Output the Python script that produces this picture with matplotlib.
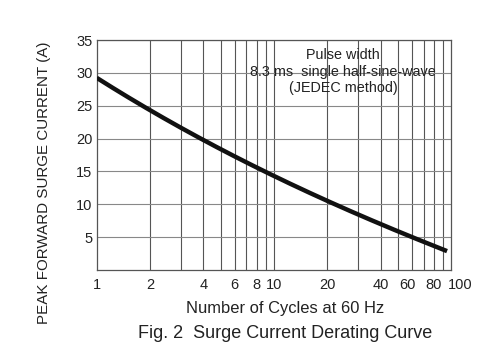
import numpy as np
import matplotlib
matplotlib.use("Agg")
import matplotlib.pyplot as plt
import matplotlib.transforms as mtransforms
from matplotlib.ticker import FixedLocator, NullLocator

plt.rcParams['font.family'] = ['Liberation Sans', 'DejaVu Sans']

# values
cycles = [1, 2, 3, 4, 5, 6, 8, 10, 20, 30, 40, 60, 80, 95]
current = [29.3, 24.3, 21.6, 19.7, 18.3, 17.2, 15.8, 14.6, 10.4, 8.4, 6.9, 5.0, 3.7, 2.9]

x_ticks = [1, 2, 4, 6, 8, 10, 20, 40, 60, 80, 100]
y_ticks = [5, 10, 15, 20, 25, 30, 35]
x_grid = [2, 3, 4, 5, 6, 7, 8, 9, 10, 20, 30, 40, 50, 60, 70, 80, 90]

fig = plt.figure(figsize=(5.0, 3.58), dpi=100)
ax = fig.add_axes([0.1934, 0.246, 0.7086, 0.642])

# smooth curve through the read points (cubic fit in log space)
lx = np.log10(cycles)
coef = np.polyfit(lx, current, 3)
xs = np.linspace(lx[0], lx[-1], 200)
ax.plot(10 ** xs, np.polyval(coef, xs), color='#111111', lw=3.2,
        solid_capstyle='butt', zorder=3)

ax.set_xscale('log')
ax.set_xlim(1, 100)
ax.set_ylim(0, 35)

for v in x_grid:
    ax.axvline(v, color='#555555', lw=0.8, zorder=1)
for v in y_ticks:
    ax.axhline(v, color='#888888', lw=0.8, zorder=1)

ax.xaxis.set_major_locator(FixedLocator(x_ticks))
ax.xaxis.set_minor_locator(NullLocator())
ax.set_xticklabels([str(v) for v in x_ticks])
ax.set_yticks(y_ticks)
ax.tick_params(length=0, labelsize=10.5, colors='#222222')
ax.tick_params(axis='x', pad=6)
ax.tick_params(axis='y', pad=3)
for s in ax.spines.values():
    s.set_color('#555555')
    s.set_linewidth(0.9)

# the printed labels sit a little off their grid lines
labels = ax.get_xticklabels()
for i, dx in [(8, -4), (10, 9)]:
    off = mtransforms.ScaledTranslation(dx / 100, 0, fig.dpi_scale_trans)
    labels[i].set_transform(labels[i].get_transform() + off)

ax.text(24.6, 32.7, "Pulse width", ha='center', va='center', fontsize=10.4, color='#222222')
ax.text(24.6, 30.2, "8.3 ms  single half-sine-wave", ha='center', va='center', fontsize=10.4, color='#222222')
ax.text(24.6, 27.7, "(JEDEC method)", ha='center', va='center', fontsize=10.4, color='#222222')

fig.text(0.571, 1 - 308 / 358, "Number of Cycles at 60 Hz", ha='center', va='center', fontsize=11.9, color='#222222')
fig.text(0.57, 1 - 333 / 358, "Fig. 2  Surge Current Derating Curve", ha='center', va='center', fontsize=13, color='#222222')
fig.text(0.088, 1 - 183 / 358, "PEAK FORWARD SURGE CURRENT (A)", ha='center', va='center',
         rotation=90, fontsize=10.9, color='#222222')

fig.savefig("out.png", dpi=100)
